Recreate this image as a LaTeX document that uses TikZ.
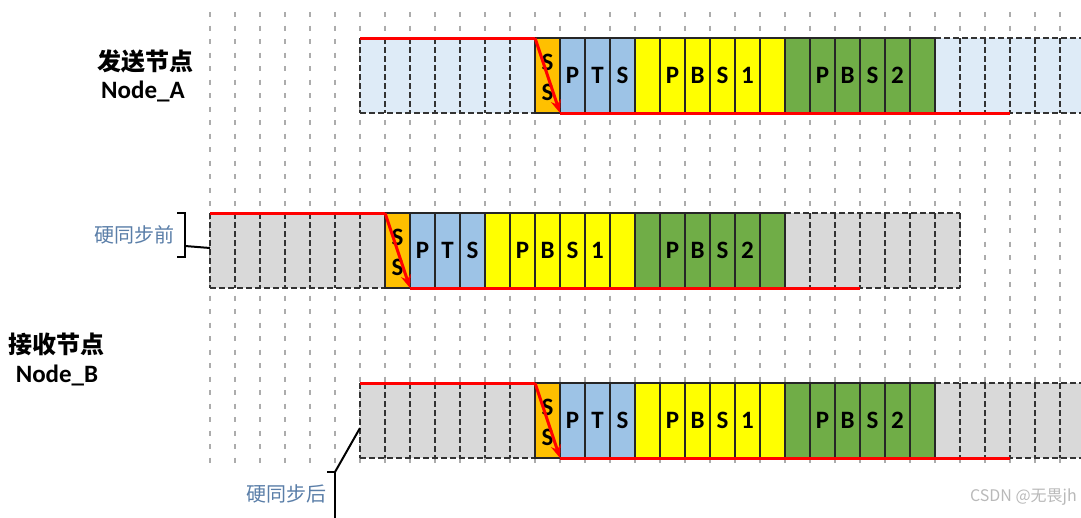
\documentclass[tikz,border=0pt]{standalone}
\usepackage{fontspec}
\setsansfont{Carlito}
\newfontfamily\cjk{Noto Sans CJK SC}
\usetikzlibrary{arrows.meta}

\definecolor{idleblue}{HTML}{DEEBF7}
\definecolor{idlegray}{HTML}{D9D9D9}
\definecolor{ssorange}{HTML}{FFC000}
\definecolor{ptsblue}{HTML}{9DC3E6}
\definecolor{pbsyellow}{HTML}{FFFF00}
\definecolor{pbsgreen}{HTML}{70AD47}
\definecolor{syncblue}{HTML}{5A7EA8}

% one frame: #1 idle fill, #2 right end of idle slots, #3 name prefix
\newcommand{\pktrow}[3]{%
    % idle slots
    \fill[#1] (0,0) rectangle (175,75);
    \fill[#1] (575,0) rectangle (#2,75);
    \foreach \x in {0,25,...,150} \draw[idle] (\x,0) -- (\x,75);
    \foreach \x in {600,625,...,#2} \draw[idle] (\x,0) -- (\x,75);
    \draw[idle] (0,0) -- (175,0);
    \draw[idle] (0,75) -- (175,75);
    \draw[idle] (575,0) -- (#2,0);
    \draw[idle] (575,75) -- (#2,75);
    % SS
    \draw[cell,fill=ssorange] (175,0) rectangle (200,75);
    \node[letter] (#3ssA) at (187.5,24) {S};
    \node[letter] (#3ssB) at (187.5,54) {S};
    % PTS
    \foreach \c [count=\n] in {P,T,S} {
        \draw[cell,fill=ptsblue] (175+25*\n,0) rectangle ++(25,75);
        \node[letter] (#3pts\n) at (162.5+25*\n+25,37.5) {\c};
    }
    % PBS1 and PBS2
    \foreach \n in {0,...,5} {
        \draw[cell,fill=pbsyellow] (275+25*\n,0) rectangle ++(25,75);
        \draw[cell,fill=pbsgreen] (425+25*\n,0) rectangle ++(25,75);
    }
    \foreach \c [count=\n] in {P,B,S,1} \node[letter] (#3pbsA\n) at (287.5+25*\n,37.5) {\c};
    \foreach \c [count=\n] in {P,B,S,2} \node[letter] (#3pbsB\n) at (437.5+25*\n,37.5) {\c};
    % signal
    \draw[sig] (0,0) -- (175,0);
    \draw[sig,->] (175,0) -- (200,75);
    \draw[sig] (200,75) -- (650,75);
}

\begin{document}
\begin{tikzpicture}[x=1pt,y=-1pt,>={Stealth[length=13pt,width=10pt]},
    gridline/.style={gray!65,line width=1.9pt,dash pattern=on 5pt off 8.5pt},
    idle/.style={black!80,line width=1.9pt,dash pattern=on 6pt off 3pt},
    cell/.style={black!85,line width=1.5pt},
    sig/.style={red,line width=3pt},
    letter/.style={inner sep=0pt,font=\sffamily\bfseries\fontsize{25}{25}\selectfont},
    title/.style={inner sep=0pt},
    note/.style={inner sep=0pt,text=syncblue,font=\cjk\fontsize{20}{20}\selectfont},
    wmark/.style={inner sep=0pt,text=gray!55,font=\cjk\fontsize{16}{16}\selectfont}]
    \useasboundingbox (0,0) rectangle (1081,517);
    \clip (0,0) rectangle (1081,517);
    % time slots
    \foreach \k in {0,...,34} \draw[gridline] (210+25*\k,12) -- (210+25*\k,463);
    % Node_A : sender
    \begin{scope}[shift={(360,38)}]
        \pktrow{idleblue}{725}{a}
    \end{scope}
    % Node_B before hard sync
    \begin{scope}[shift={(210,213)}]
        \pktrow{idlegray}{750}{p}
    \end{scope}
    % Node_B after hard sync
    \begin{scope}[shift={(360,383)}]
        \pktrow{idlegray}{725}{q}
    \end{scope}
    % labels
    \node[title,font=\cjk\bfseries\fontsize{24}{24}\selectfont] (sendcn) at (145,61) {发送节点};
    \node[title,font=\sffamily\bfseries\fontsize{25}{25}\selectfont] (sendid) at (143,91) {Node\_A};
    \node[title,font=\cjk\bfseries\fontsize{24}{24}\selectfont] (recvcn) at (57,344) {接收节点};
    \node[title,font=\sffamily\bfseries\fontsize{25}{25}\selectfont] (recvid) at (57,375) {Node\_B};
    % hard sync brackets
    \node[note,anchor=east] (pre) at (175,235) {硬同步前};
    \coordinate (preBr) at (185,246);
    \coordinate (preTip) at (210,248);
    \draw[line width=2pt] (177,213) -- (185,213) -- (185,257) -- (177,257);
    \draw[line width=2pt] (preBr) -- (preTip);
    \node[note,anchor=east] (post) at (327,494) {硬同步后};
    \coordinate (postBr) at (335,472);
    \coordinate (postTip) at (360,428);
    \draw[line width=2pt] (327,472) -- (postBr) -- (335,520);
    \draw[line width=2pt] (postBr) -- (postTip);
    \node[wmark,anchor=east] (csdn) at (1077,497) {CSDN @无畏jh};
\end{tikzpicture}
\end{document}
